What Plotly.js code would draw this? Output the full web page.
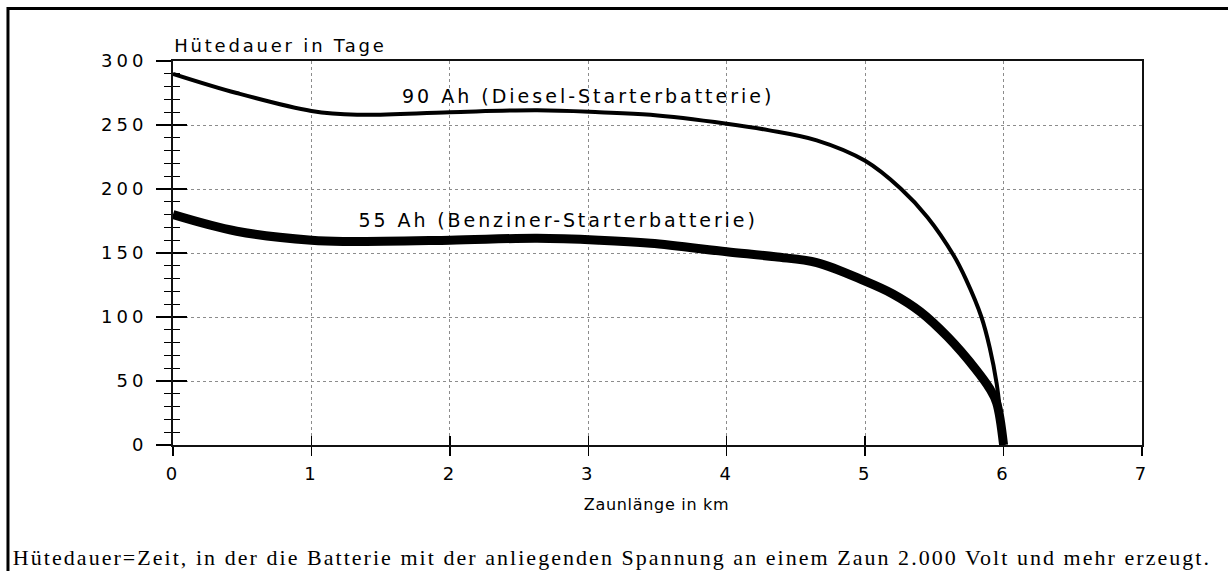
<!DOCTYPE html>
<html>
<head>
<meta charset="utf-8">
<script src="https://cdn.plot.ly/plotly-3.0.1.min.js"></script>
<style>
  html, body { margin: 0; padding: 0; background: #fff; }
  #chart { width: 1228px; height: 571px; }
  .ytick text { letter-spacing: 4px; }
  .xtick text { letter-spacing: 3px; }
  .annotation[data-index="0"] text { letter-spacing: 2.8px; }
  .annotation[data-index="1"] text { letter-spacing: 0.7px; }
  .annotation[data-index="2"] text { letter-spacing: 3px; }
  .annotation[data-index="3"] text { letter-spacing: 2.9px; }
  .annotation[data-index="4"] text { letter-spacing: 2.04px; }
</style>
</head>
<body>
<div id="chart"></div>
<script>
// Zaunlänge in km (x) and Hütedauer in Tage (y)
const km90   = [0, 0.46, 1.0, 1.33, 2.0, 2.63, 3.08, 3.45, 4.0, 4.3, 4.65, 5.0, 5.26, 5.45, 5.64, 5.73, 5.84, 5.9, 5.95, 6.0];
const tage90 = [290, 275, 261, 258, 260, 261.5, 260, 258, 251, 246, 238, 222, 200, 178, 148, 129, 100, 76, 48, 0];

const km55   = [0, 0.46, 1.0, 1.23, 2.0, 2.63, 3.08, 3.45, 4.0, 4.35, 4.65, 5.0, 5.2, 5.4, 5.6, 5.8, 5.9, 5.95, 6.0];
const tage55 = [180, 167, 160, 159, 160, 161.5, 160, 157.6, 151, 147, 142.5, 128, 118, 104, 84, 59, 44, 33, 0];

const label90 = "90 Ah (Diesel-Starterbatterie)";
const label55 = "55 Ah (Benziner-Starterbatterie)";
const yTitle = "Hütedauer in Tage";
const xTitle = "Zaunlänge in km";
const caption = "Hütedauer=Zeit, in der die Batterie mit der anliegenden Spannung an einem Zaun 2.000 Volt und mehr erzeugt.";

const xRange = [0, 7];
const yRange = [0, 300];

const sans = "DejaVu Sans, Arial, sans-serif";

const traces = [
  { x: km90, y: tage90, mode: "lines", line: { color: "#000", width: 4, shape: "spline", smoothing: 1 }, hoverinfo: "skip", showlegend: false },
  { x: km55, y: tage55, mode: "lines", line: { color: "#000", width: 9, shape: "spline", smoothing: 1 }, hoverinfo: "skip", showlegend: false },
  { x: [], y: [], xaxis: "x2", yaxis: "y2", mode: "lines", hoverinfo: "skip", showlegend: false }
];

const layout = {
  width: 1228, height: 571,
  margin: { l: 173, r: 86, t: 61, b: 126 },
  paper_bgcolor: "#fff", plot_bgcolor: "#fff",
  showlegend: false,
  xaxis: {
    range: xRange, dtick: 1, tick0: 0,
    showline: true, linecolor: "#111", linewidth: 2, mirror: true,
    ticks: "outside", ticklen: 9, tickwidth: 1.5, tickcolor: "#000",
    showgrid: true, gridcolor: "#8c8c8c", gridwidth: 1, griddash: "dot",
    zeroline: false,
    tickfont: { family: sans, size: 18, color: "#000" },
    ticklabelstandoff: 2
  },
  yaxis: {
    range: yRange, dtick: 50, tick0: 0,
    showline: true, linecolor: "#111", linewidth: 2, mirror: true,
    ticks: "outside", ticklen: 15, tickwidth: 1.5, tickcolor: "#000",
    minor: { dtick: 10, ticks: "outside", ticklen: 7, tickwidth: 1, tickcolor: "#000", showgrid: false },
    showgrid: true, gridcolor: "#8c8c8c", gridwidth: 1, griddash: "dot",
    zeroline: false,
    tickfont: { family: sans, size: 18, color: "#000" },
    ticklabelstandoff: 5
  },
  xaxis2: {
    overlaying: "x", range: xRange, dtick: 1, tick0: 0,
    ticks: "inside", ticklen: 9, tickwidth: 1.5, tickcolor: "#000",
    showticklabels: false, showgrid: false, zeroline: false, showline: false
  },
  yaxis2: {
    overlaying: "y", range: yRange, dtick: 50, tick0: 0,
    ticks: "inside", ticklen: 14, tickwidth: 1.5, tickcolor: "#000",
    minor: { dtick: 10, ticks: "inside", ticklen: 7, tickwidth: 1, tickcolor: "#000", showgrid: false },
    showticklabels: false, showgrid: false, zeroline: false, showline: false
  },
  annotations: [
    { text: yTitle, xref: "paper", yref: "paper", x: 0.111, y: 1.0404, xanchor: "center", yanchor: "middle",
      showarrow: false, font: { family: sans, size: 18, color: "#000" } },
    { text: xTitle, xref: "paper", yref: "paper", x: 0.4985, y: -0.156, xanchor: "center", yanchor: "middle",
      showarrow: false, font: { family: sans, size: 16, color: "#000" } },
    { text: label90, xref: "x", yref: "y", x: 3.0, y: 273, xanchor: "center", yanchor: "middle",
      showarrow: false, font: { family: sans, size: 19, color: "#000" } },
    { text: label55, xref: "x", yref: "y", x: 2.78, y: 176, xanchor: "center", yanchor: "middle",
      showarrow: false, font: { family: sans, size: 19, color: "#000" } },
    { text: caption, xref: "paper", yref: "paper", x: 0.4535, y: -0.292, xanchor: "center", yanchor: "middle",
      showarrow: false, font: { family: "Liberation Serif, Times New Roman, serif", size: 22, color: "#000" } }
  ],
  shapes: [
    { type: "rect", xref: "paper", yref: "paper", x0: -0.1703, x1: 1.2, y0: -0.5, y1: 1.1367,
      line: { color: "#000", width: 3 }, fillcolor: "rgba(0,0,0,0)", layer: "above" }
  ]
};

Plotly.newPlot("chart", traces, layout, { staticPlot: true, displayModeBar: false });
</script>
</body>
</html>
